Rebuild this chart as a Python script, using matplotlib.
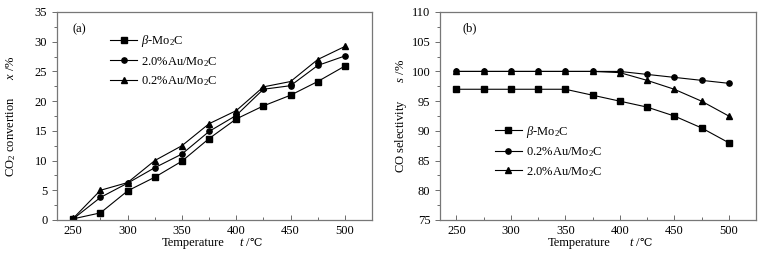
import matplotlib
matplotlib.use("Agg")
import matplotlib.pyplot as plt
from matplotlib.ticker import MultipleLocator

plt.rcParams['font.family'] = ['Liberation Serif', 'DejaVu Sans']
plt.rcParams['mathtext.fontset'] = 'custom'
plt.rcParams['mathtext.it'] = 'Liberation Serif:italic'
plt.rcParams['mathtext.rm'] = 'Liberation Serif'
plt.rcParams['font.size'] = 9

temps = [250, 275, 300, 325, 350, 375, 400, 425, 450, 475, 500]

conv_mo2c = [0.2, 1.2, 4.9, 7.2, 9.9, 13.7, 17.0, 19.2, 21.0, 23.3, 25.9]
conv_20au = [0.2, 3.8, 6.2, 8.8, 11.1, 14.9, 17.6, 22.0, 22.6, 26.0, 27.6]
conv_02au = [0.3, 5.0, 6.3, 10.0, 12.5, 16.2, 18.4, 22.4, 23.3, 27.0, 29.2]

sel_mo2c = [97, 97, 97, 97, 97, 96, 95, 94, 92.5, 90.5, 88]
sel_02au = [100, 100, 100, 100, 100, 100, 100, 99.5, 99, 98.5, 98]
sel_20au = [100, 100, 100, 100, 100, 100, 99.8, 98.5, 97, 95, 92.5]

lab_mo2c = r'$\beta$-Mo$_2$C'
lab_20 = r'2.0%Au/Mo$_2$C'
lab_02 = r'0.2%Au/Mo$_2$C'

fig = plt.figure(figsize=(7.66, 2.57), dpi=100)
W, H = 766, 257
axa = fig.add_axes([57 / W, 1 - 220 / H, 315 / W, 208 / H])
axb = fig.add_axes([440 / W, 1 - 220 / H, 316 / W, 208 / H])

kw = dict(color='black', lw=0.8, markersize=3.8)

axa.plot(temps, conv_mo2c, marker='s', label=lab_mo2c, **kw)
axa.plot(temps, conv_20au, marker='o', label=lab_20, **kw)
axa.plot(temps, conv_02au, marker='^', label=lab_02, **kw)

axb.plot(temps, sel_mo2c, marker='s', label=lab_mo2c, **kw)
axb.plot(temps, sel_02au, marker='o', label=lab_02, **kw)
axb.plot(temps, sel_20au, marker='^', label=lab_20, **kw)

def xlabel_parts(ax, x_end, x_t, x_unit):
    y = -0.11
    ax.text(x_end, y, 'Temperature', transform=ax.transAxes, ha='right', va='center', fontsize=9)
    ax.text(x_t, y, 't', transform=ax.transAxes, ha='left', va='center', fontsize=9, style='italic')
    ax.text(x_unit, y, '/', transform=ax.transAxes, ha='left', va='center', fontsize=9)
    ax.text(x_unit + 0.012, y, '℃', transform=ax.transAxes, ha='left', va='center', fontsize=8,
            family=['DejaVu Serif', 'DejaVu Sans'])

for ax in (axa, axb):
    ax.set_xlim(235, 525)
    ax.set_xticks([250, 300, 350, 400, 450, 500])
    ax.xaxis.set_minor_locator(MultipleLocator(25))
    ax.yaxis.set_minor_locator(MultipleLocator(2.5))
    ax.tick_params(axis='x', which='both', direction='in', width=0.6, colors='#555555', labelcolor='black', labelsize=9)
    ax.tick_params(axis='y', which='both', direction='out', width=0.6, colors='#555555', labelcolor='black', labelsize=9)
    ax.tick_params(which='major', length=3.5)
    ax.tick_params(which='minor', length=2)
    for s in ax.spines.values():
        s.set_color('#777777')
        s.set_linewidth(0.9)

xlabel_parts(axa, 0.533, 0.58, 0.6)
xlabel_parts(axb, 0.541, 0.6, 0.62)

axa.set_ylim(0, 35)
axa.set_yticks(range(0, 36, 5))
axa.set_ylabel(r'CO$_2$ convertion      $x$ /%', fontsize=9, labelpad=12)
axa.text(0.05, 0.947, '(a)', transform=axa.transAxes, ha='left', va='top', fontsize=9)
axa.legend(loc='upper left', bbox_to_anchor=(0.14, 0.94), frameon=False, fontsize=9,
           handlelength=2.2, handletextpad=0.3, labelspacing=0.45, borderpad=0.2)

axb.set_ylim(75, 110)
axb.set_yticks(range(75, 111, 5))
axb.set_ylabel(r'CO selectivity      $s$ /%', fontsize=9, labelpad=2)
axb.text(0.07, 0.95, '(b)', transform=axb.transAxes, ha='left', va='top', fontsize=9)
axb.legend(loc='upper left', bbox_to_anchor=(0.145, 0.505), frameon=False, fontsize=9,
           handlelength=2.2, handletextpad=0.3, labelspacing=0.45, borderpad=0.2)

fig.savefig('out.png', dpi=100)
